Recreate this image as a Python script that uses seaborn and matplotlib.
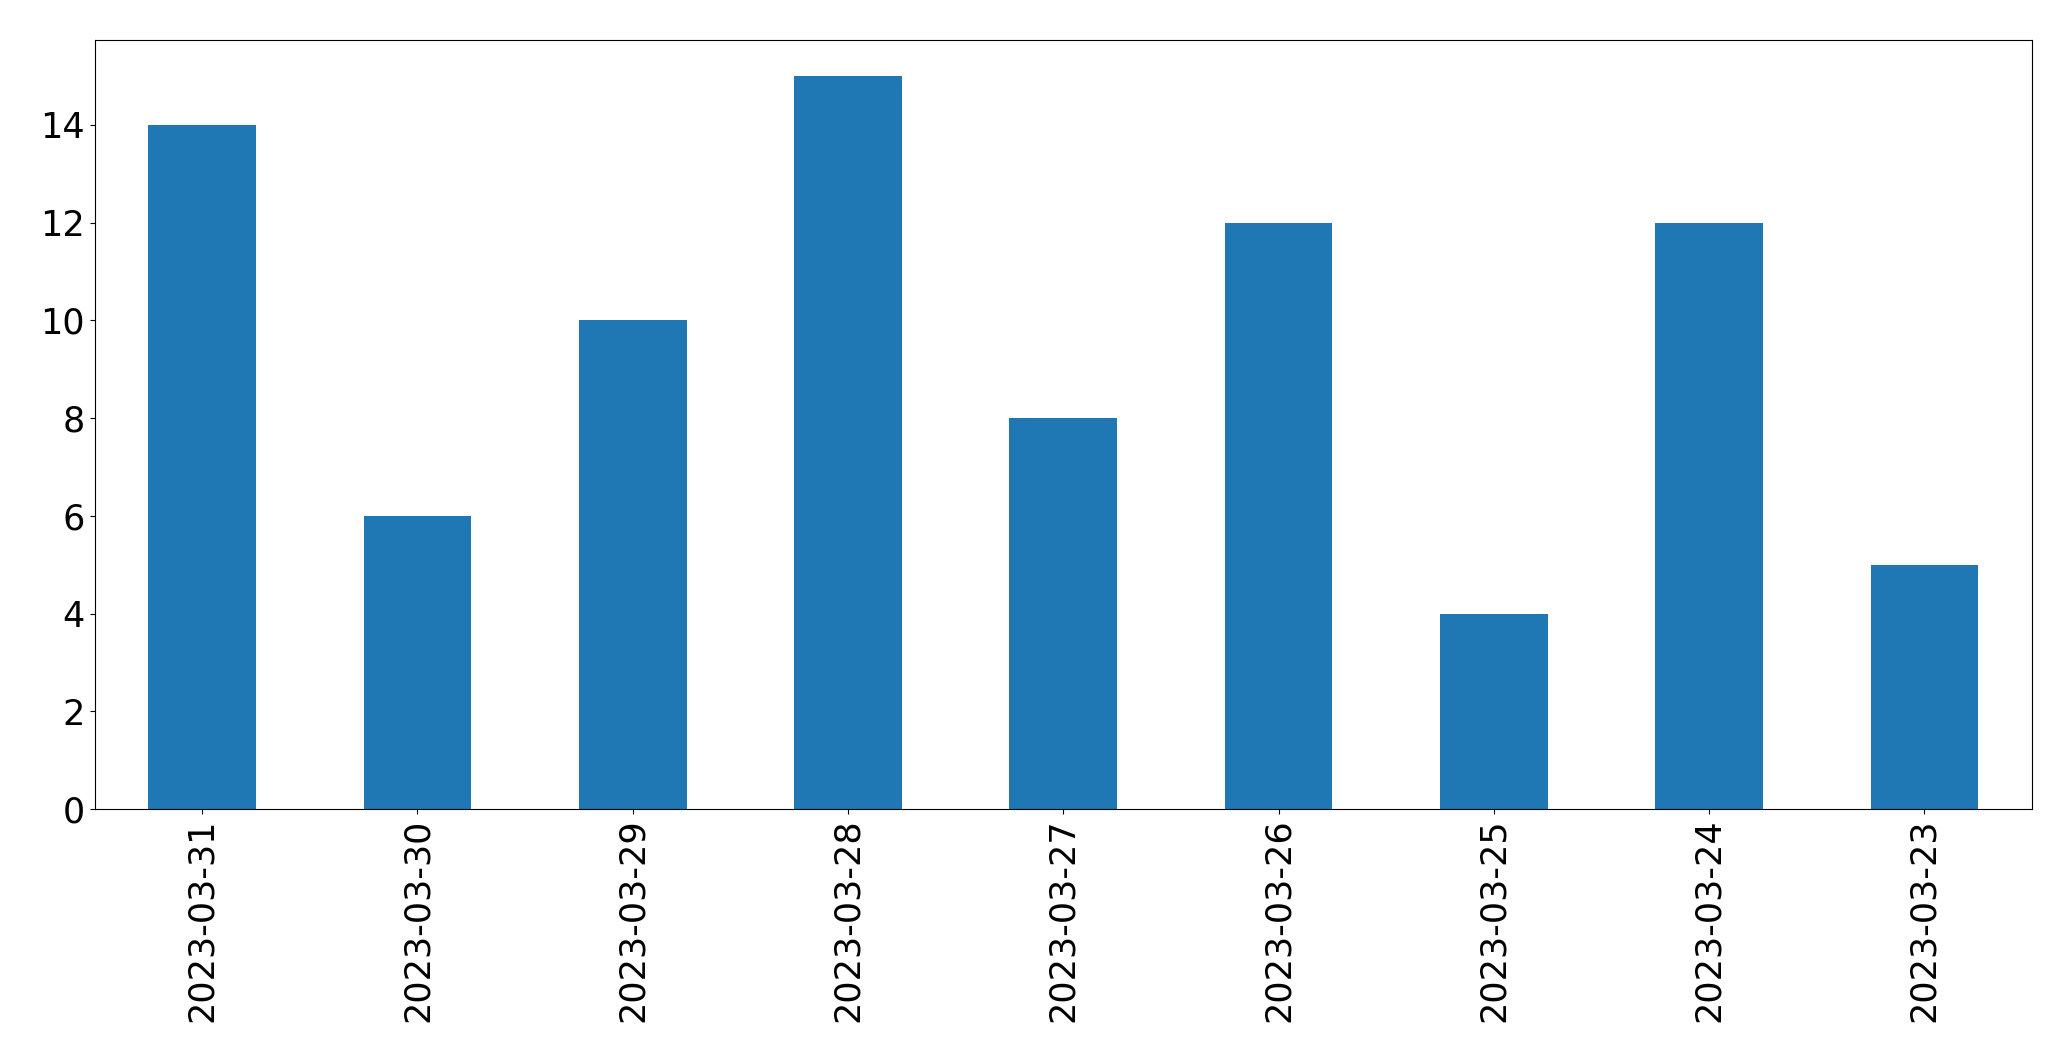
import matplotlib
matplotlib.use("Agg")
import matplotlib.pyplot as plt
import seaborn as sns
import pandas as pd

dates = ["2023-03-31", "2023-03-30", "2023-03-29", "2023-03-28", "2023-03-27",
         "2023-03-26", "2023-03-25", "2023-03-24", "2023-03-23"]
counts = [14, 6, 10, 15, 8, 12, 4, 12, 5]

df = pd.DataFrame({"date": dates, "count": counts})

fig = plt.figure(figsize=(20.71, 10.61), dpi=100)
ax = fig.add_axes([94.5 / 2071, 1 - 809 / 1061, (2032 - 94.5) / 2071, (809 - 39.5) / 1061])

sns.barplot(data=df, x="date", y="count", order=dates, color="#1f77b4",
            saturation=1, width=0.5, ax=ax, errorbar=None)

ax.set_xlim(-0.5, len(dates) - 0.5)
ax.set_ylim(0, 15.75)
ax.set_xlabel("")
ax.set_ylabel("")
ax.tick_params(axis="both", labelsize=25.2)
ax.tick_params(axis="x", rotation=90)

fig.savefig("out.png", dpi=100)
